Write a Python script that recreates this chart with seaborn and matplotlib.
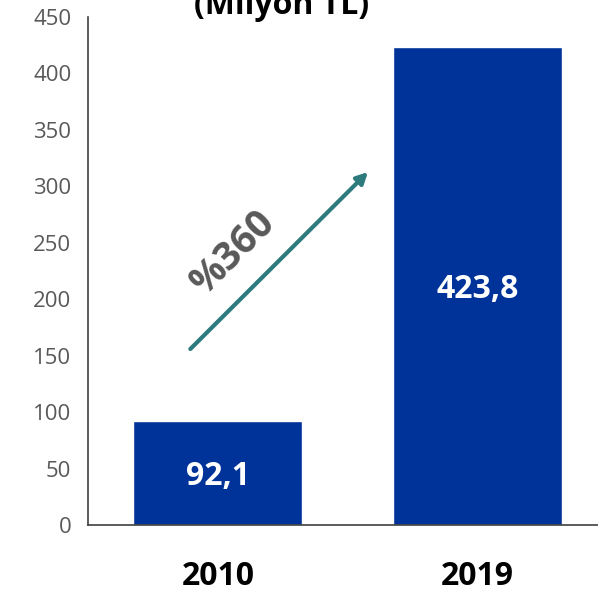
import matplotlib
matplotlib.use("Agg")
import matplotlib.pyplot as plt
import seaborn as sns
import pandas as pd

years = ["2010", "2019"]
values = [92.1, 423.8]
value_labels = ["92,1", "423,8"]
yticks = [0, 50, 100, 150, 200, 250, 300, 350, 400, 450]
title = "(Milyon TL)"
growth_label = "%360"

sns.set_theme(style="white")
plt.rcParams["font.family"] = ["Open Sans", "DejaVu Sans"]

df = pd.DataFrame({"year": years, "value": values})

fig = plt.figure(figsize=(5.98, 5.93), dpi=100)
ax = fig.add_axes([88/598, 68/593, 519.5/598, 508/593])

sns.barplot(data=df, x="year", y="value", color="#003399", saturation=1,
            width=0.65, ax=ax)

ax.set_xlim(-0.5, 1.5)
ax.set_ylim(0, 450)
ax.set_yticks(yticks)
ax.set_yticklabels([str(t) for t in yticks], fontsize=16, color="#595959")
ax.set_xticklabels(years, fontsize=23, fontweight="bold", color="black")
ax.tick_params(axis="x", length=0, pad=25)
ax.tick_params(axis="y", length=0, pad=12)
ax.set_xlabel("")
ax.set_ylabel("")
for s in ["top", "right"]:
    ax.spines[s].set_visible(False)
for s in ["left", "bottom"]:
    ax.spines[s].set_color("#404040")
    ax.spines[s].set_linewidth(1.2)

for i, (v, lab) in enumerate(zip(values, value_labels)):
    ax.text(i, v / 2 - 3, lab, ha="center", va="center", color="white",
            fontsize=23, fontweight="bold")

ax.annotate("", xy=(0.578, 312.7), xytext=(-0.106, 155.9),
            arrowprops=dict(arrowstyle="-|>,head_length=0.55,head_width=0.28",
                            color="#2E7B7D", lw=3, shrinkA=0, shrinkB=0))
ax.text(0.06, 241, growth_label, rotation=45, ha="center", va="center",
        fontsize=28, fontweight="bold", color="#595959")

fig.text(282/598, 1 - 5/593, title, ha="center", va="center",
         fontsize=23, fontweight="bold", color="black")

fig.savefig("out.png", dpi=100)
